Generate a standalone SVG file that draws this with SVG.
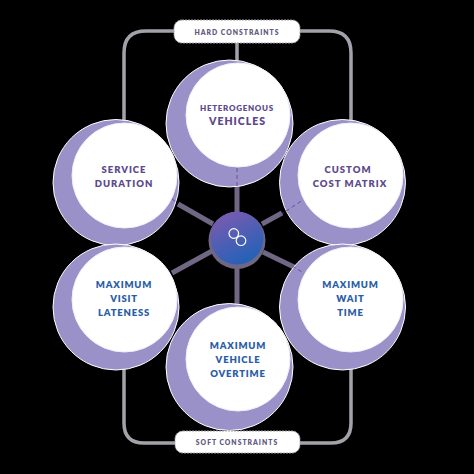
<svg xmlns="http://www.w3.org/2000/svg" width="474" height="474" viewBox="0 0 474 474">
<style>
.frame{fill:none;stroke:#a5a1aa;stroke-width:3.500}
.link{fill:none;stroke:#6f6784;stroke-width:5}
.dash{fill:none;stroke:#6a4f9c;stroke-width:1;stroke-dasharray:4 3}
.outer{fill:#9a91c9;stroke:#fff;stroke-width:1}
.inner{fill:#fff;stroke:#f0eef6;stroke-width:1}
.pill{fill:#fff;stroke:#a5a1aa;stroke-width:1;stroke-dasharray:2 1}
text{font-family:"Lato","Liberation Sans",sans-serif;font-weight:800;text-anchor:middle}
.p{fill:#5d4a8c;font-size:9.500px;letter-spacing:1px}
.b{fill:#2a5da6;font-size:9.500px;letter-spacing:0.800px}
.s{fill:#5f5a80;font-size:6.800px;letter-spacing:1px}
.icon{fill:none;stroke:#fff;stroke-width:1.200}
</style>
<defs>
<linearGradient id="g" x1="0.2" y1="0" x2="0.7" y2="1"><stop offset="0" stop-color="#7d5bb0"/><stop offset="1" stop-color="#1f62b8"/></linearGradient>
</defs>
<rect width="474" height="474" fill="#000"/>
<g id="connectors">
<path class="frame" d="M174 31H146Q124 31 124 53V130"/>
<path class="frame" d="M300 31H329Q351 31 351 53V130"/>
<path class="frame" d="M124 360V423Q124 443 144 443H176"/>
<path class="frame" d="M351 360V423Q351 443 331 443H300"/>
<path class="frame" d="M237 43V62"/>
<path class="link" d="M237 186V214"/>
<path class="link" d="M237 268V306"/>
<path class="link" d="M178 204L213 224"/>
<path class="link" d="M172 273L212 251"/>
<path class="link" d="M262 224L282 213"/>
<path class="link" d="M263 252L296 268"/>
</g>
<g id="node-heterogenous"><circle class="outer" cx="229.500" cy="123.500" r="63.500"/></g>
<g id="node-service"><circle class="outer" cx="116" cy="182.500" r="63"/></g>
<g id="node-custom"><circle class="outer" cx="342.500" cy="182.500" r="63"/></g>
<g id="node-visit"><circle class="outer" cx="116" cy="307" r="63"/></g>
<g id="node-wait"><circle class="outer" cx="342.500" cy="307" r="63"/></g>
<g id="node-overtime"><circle class="outer" cx="229.500" cy="367" r="63.500"/></g>
<g id="dashes">
<path class="dash" d="M237 168V187"/>
<path class="dash" d="M280 215L303 200"/>
<path class="dash" d="M172 199L178 203"/>
<path class="dash" d="M292 266L304 273"/>
</g>
<g id="node-heterogenous-face"><circle class="inner" cx="238" cy="115" r="52"/>
<text class="p" x="237" y="111" style="font-size:8px;letter-spacing:0.700px">HETEROGENOUS</text>
<text class="p" x="237.500" y="125" style="font-size:10.500px;letter-spacing:1px">VEHICLES</text></g>
<g id="node-service-face"><circle class="inner" cx="124.500" cy="175.500" r="52.500"/>
<text class="p" x="124" y="172.500">SERVICE</text>
<text class="p" x="124" y="186.800">DURATION</text></g>
<g id="node-custom-face"><circle class="inner" cx="350.500" cy="175.500" r="52.500"/>
<text class="p" x="348" y="172.500">CUSTOM</text>
<text class="p" x="350" y="186.800">COST MATRIX</text></g>
<g id="node-visit-face"><circle class="inner" cx="124.500" cy="299.500" r="52.500"/>
<text class="b" x="124" y="287.500">MAXIMUM</text>
<text class="b" x="124" y="301.800">VISIT</text>
<text class="b" x="124" y="316">LATENESS</text></g>
<g id="node-wait-face"><circle class="inner" cx="350.500" cy="299.500" r="52.500"/>
<text class="b" x="350.500" y="287.500">MAXIMUM</text>
<text class="b" x="350.500" y="301.800">WAIT</text>
<text class="b" x="350.500" y="316">TIME</text></g>
<g id="node-overtime-face"><circle class="inner" cx="238" cy="359" r="52"/>
<text class="b" x="238" y="348.500">MAXIMUM</text>
<text class="b" x="238" y="362.800">VEHICLE</text>
<text class="b" x="238" y="377">OVERTIME</text></g>
<g id="node-center">
<circle cx="237" cy="240.500" r="28.500" fill="#6f6784"/>
<circle cx="237" cy="238" r="26.500" fill="url(#g)"/>
<circle class="icon" cx="233.800" cy="233.500" r="4.800"/>
<circle class="icon" cx="241" cy="240.700" r="4.800"/>
</g>
<g id="node-hard"><rect class="pill" x="174" y="20" width="126" height="23" rx="8"/>
<text class="s" x="237" y="34.500">HARD CONSTRAINTS</text></g>
<g id="node-soft"><rect class="pill" x="175" y="431" width="125" height="22" rx="8"/>
<text class="s" x="237" y="445">SOFT CONSTRAINTS</text></g>
</svg>
